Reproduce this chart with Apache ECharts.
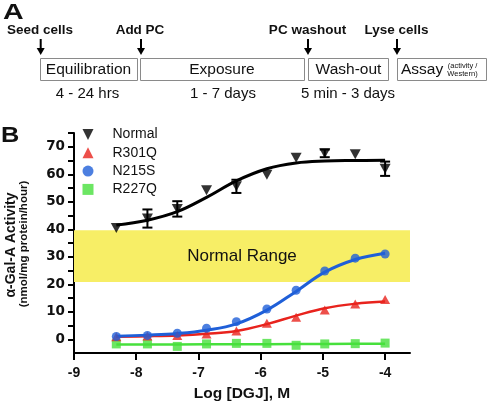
<!DOCTYPE html>
<html>
<head>
<meta charset="utf-8">
<script src="https://cdn.jsdelivr.net/npm/echarts@6/dist/echarts.min.js"></script>
<style>
html,body{margin:0;padding:0;background:#fff;}
#chart{width:488px;height:407px;}
</style>
</head>
<body>
<div id="chart"></div>
<script>
// ---- data ----
const logDGJ = [-8.32, -7.82, -7.34, -6.87, -6.39, -5.9, -5.43, -4.97, -4.48, -4.0];
const normalY = [40.5, 43.9, 47.4, 54.2, 55.6, 59.8, 66.0, 67.6, 67.3, 62.0];
const normalErr = [0, 3.3, 2.8, 0, 2.4, 0, 0, 1.4, 0, 2.6];
const normalFit = [41.5, 43.3, 46.4, 51.6, 57.6, 62.0, 64.1, 64.8, 65.0, 65.1];
const r301qY = [0.9, 1.2, 1.4, 1.9, 3.0, 5.8, 8.0, 10.6, 12.8, 14.5];
const r301qFit = [0.9, 1.1, 1.4, 2.0, 3.0, 5.5, 8.6, 11.3, 12.9, 13.7];
const n215sY = [1.0, 1.4, 2.2, 4.0, 6.4, 11.0, 17.8, 24.8, 29.5, 31.0];
const n215sFit = [1.1, 1.5, 2.1, 3.3, 5.6, 10.6, 17.4, 24.4, 29.0, 31.3];
const r227qY = [-1.7, -1.7, -2.6, -1.7, -1.5, -1.5, -2.2, -1.7, -1.6, -1.4];
const r227qFit = [-1.9, -1.9, -1.9, -1.85, -1.8, -1.8, -1.75, -1.7, -1.65, -1.6];
const xTickValues = [-9, -8, -7, -6, -5, -4];
const yLabelValues = [0, 10, 20, 30, 40, 50, 60, 70];
const yTickValues = [0, 5, 10, 15, 20, 25, 30, 35, 40, 45, 50, 55, 60, 65, 70, 75];
const normalRange = [20.8, 39.6];
const seriesNames = ['Normal', 'R301Q', 'N215S', 'R227Q'];

// ---- helpers ----
const pairs = (xs, ys) => xs.map((x, i) => [x, ys[i]]);
const errData = logDGJ.map((x, i) => [x, normalY[i] - normalErr[i], normalY[i] + normalErr[i]])
  .filter(d => d[2] > d[1]);

const downTri = 'path://M0,0L10,0L5,10Z';
const C = { normal: '#000000', red: '#e8231d', blue: '#1f5fd8', green: '#47e03c', band: '#f7ee66' };
const AR = 'Liberation Sans, Arial, Helvetica, sans-serif';

// ---- panel A graphics ----
const gfx = [];
function txt(x, y, text, size, weight, align, extra) {
  gfx.push(Object.assign({ type: 'text', x: x, y: y, silent: true,
    style: { text: text, fontSize: size, fontWeight: weight, fontFamily: AR, fill: '#111',
      align: align || 'center', verticalAlign: 'middle' } }, extra || {}));
}
function box(x1, x2) {
  gfx.push({ type: 'rect', silent: true, shape: { x: x1 + 0.5, y: 58.5, width: x2 - x1, height: 22 },
    style: { fill: '#fff', stroke: '#8a8a8a', lineWidth: 1 } });
}
function arrow(x) {
  gfx.push({ type: 'rect', silent: true, shape: { x: x - 1, y: 39, width: 2, height: 10 }, style: { fill: '#000' } });
  gfx.push({ type: 'polygon', silent: true, shape: { points: [[x - 4, 48], [x + 4, 48], [x, 55]] }, style: { fill: '#000' } });
}
txt(3, 12.5, 'A', 22, 'bold', 'left', { scaleX: 1.3 });
txt(1, 136, 'B', 22, 'bold', 'left', { scaleX: 1.15 });
txt(7, 30.5, 'Seed cells', 13.5, 'bold', 'left');
txt(140, 30.5, 'Add PC', 13.5, 'bold');
txt(307.5, 30.5, 'PC washout', 13.5, 'bold');
txt(396.5, 30.5, 'Lyse cells', 13.5, 'bold');
[40.7, 141, 308, 397].forEach(arrow);
box(40, 137); box(140, 304); box(308, 388); box(397, 486);
txt(88.5, 70, 'Equilibration', 15.5, 'normal');
txt(222, 70, 'Exposure', 15.5, 'normal');
txt(348.5, 70, 'Wash-out', 15.5, 'normal');
txt(401, 70, 'Assay', 15.5, 'normal', 'left');
txt(462.5, 65.5, '(activity /', 7.5, 'normal');
txt(462.5, 74, 'Western)', 7.5, 'normal');
txt(87.5, 94, '4 - 24 hrs', 15, 'normal');
txt(223, 94, '1 - 7 days', 15, 'normal');
txt(348, 94, '5 min - 3 days', 15, 'normal');
// y-axis titles
txt(11.5, 245, 'α-Gal-A Activity', 14, 'bold', 'center', { rotation: Math.PI / 2 });
txt(24, 244, '(nmol/mg protein/hour)', 11.5, 'bold', 'center', { rotation: Math.PI / 2 });

const chart = echarts.init(document.getElementById('chart'), null, { renderer: 'canvas' });
const option = {
  animation: false,
  backgroundColor: '#fff',
  graphic: gfx,
  grid: { left: 74, top: 133, width: 336, height: 222, containLabel: false },
  legend: {
    orient: 'vertical', left: 82.5, top: 127.5, padding: 0, itemWidth: 11, itemHeight: 11, itemGap: 4.3,
    selectedMode: false,
    textStyle: { fontFamily: AR, fontSize: 14, color: '#111', padding: [0, 0, 0, 14] },
    data: [
      { name: seriesNames[0], icon: downTri },
      { name: seriesNames[1], icon: 'triangle' },
      { name: seriesNames[2], icon: 'circle' },
      { name: seriesNames[3], icon: 'rect' }
    ]
  },
  xAxis: {
    type: 'value', min: -9, max: -3.6,
    name: 'Log [DGJ], M', nameLocation: 'middle', nameGap: 33,
    nameTextStyle: { fontFamily: AR, fontSize: 15.5, fontWeight: 'bold', color: '#111' },
    axisLine: { onZero: false, lineStyle: { color: '#000', width: 2 } },
    axisTick: { show: true, length: 7, lineStyle: { color: '#000', width: 2 }, customValues: xTickValues },
    axisLabel: { customValues: xTickValues, margin: 13, fontFamily: AR, fontSize: 14, fontWeight: 'bold', color: '#111' },
    splitLine: { show: false }
  },
  yAxis: {
    type: 'value', min: -5, max: 75,
    axisLine: { onZero: false, lineStyle: { color: '#000', width: 2 } },
    axisTick: { show: true, length: 6, lineStyle: { color: '#000', width: 2 }, customValues: yTickValues },
    axisLabel: { customValues: yLabelValues, margin: 9, fontFamily: 'DejaVu Sans, sans-serif', fontSize: 13.5, fontWeight: 'bold', color: '#111' },
    splitLine: { show: false }
  },
  series: [
    { name: 'band', type: 'line', data: [], z: 1, silent: true,
      markArea: { silent: true, itemStyle: { color: C.band, opacity: 1 },
        label: { show: true, position: 'inside', formatter: 'Normal Range', fontFamily: AR, fontSize: 17, color: '#111' },
        data: [[{ xAxis: -9, yAxis: normalRange[0] }, { xAxis: -3.6, yAxis: normalRange[1] }]] } },
    { name: 'R227Q fit', type: 'line', z: 3, data: pairs(logDGJ, r227qFit), showSymbol: false, smooth: false,
      lineStyle: { color: C.green, width: 2.5 }, silent: true },
    { name: 'R227Q', type: 'scatter', z: 4, data: pairs(logDGJ, r227qY), symbol: 'rect', symbolSize: 9,
      itemStyle: { color: C.green } },
    { name: 'R301Q fit', type: 'line', z: 5, data: pairs(logDGJ, r301qFit), showSymbol: false, smooth: 0.4,
      lineStyle: { color: C.red, width: 2.5 }, silent: true },
    { name: 'N215S fit', type: 'line', z: 6, data: pairs(logDGJ, n215sFit), showSymbol: false, smooth: 0.4,
      lineStyle: { color: C.blue, width: 3 }, silent: true },
    { name: 'R301Q', type: 'scatter', z: 7, data: pairs(logDGJ, r301qY), symbol: 'triangle', symbolSize: [10, 9],
      itemStyle: { color: C.red } },
    { name: 'N215S', type: 'scatter', z: 8, data: pairs(logDGJ, n215sY), symbol: 'circle', symbolSize: 9,
      itemStyle: { color: C.blue } },
    { name: 'Normal fit', type: 'line', z: 9, data: pairs(logDGJ, normalFit), showSymbol: false, smooth: 0.4,
      lineStyle: { color: C.normal, width: 3 }, silent: true },
    { name: 'Normal err', type: 'custom', z: 10, data: errData, silent: true,
      renderItem: function (params, api) {
        const x = api.value(0);
        const top = api.coord([x, api.value(2)]);
        const bot = api.coord([x, api.value(1)]);
        const hw = 5, st = { stroke: '#000', lineWidth: 2 };
        return { type: 'group', children: [
          { type: 'line', shape: { x1: top[0], y1: top[1], x2: bot[0], y2: bot[1] }, style: st },
          { type: 'line', shape: { x1: top[0] - hw, y1: top[1], x2: top[0] + hw, y2: top[1] }, style: st },
          { type: 'line', shape: { x1: bot[0] - hw, y1: bot[1], x2: bot[0] + hw, y2: bot[1] }, style: st }
        ] };
      } },
    { name: 'Normal', type: 'scatter', z: 11, data: pairs(logDGJ, normalY), symbol: downTri, symbolSize: [11, 10],
      itemStyle: { color: C.normal } }
  ]
};
chart.setOption(option);
</script>
</body>
</html>
